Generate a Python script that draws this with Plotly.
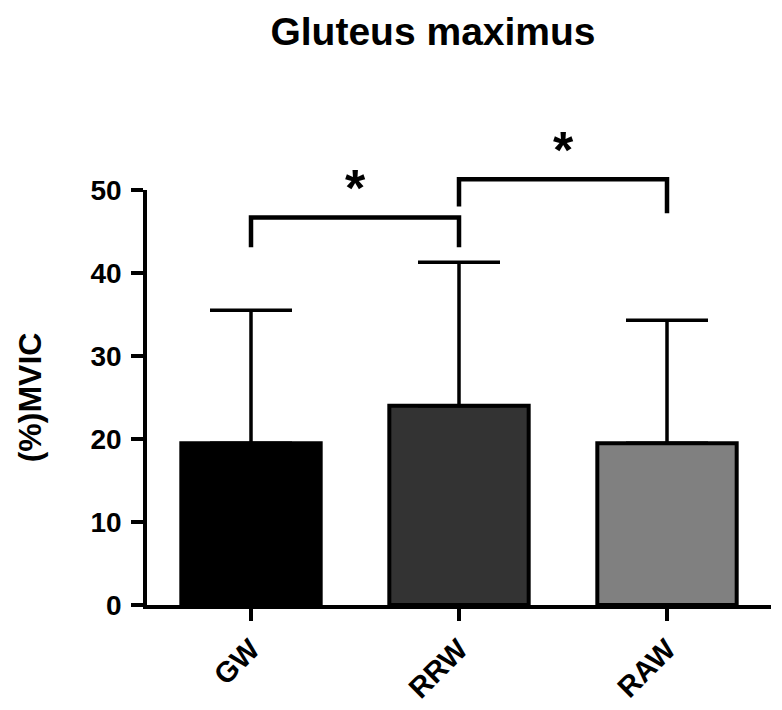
import plotly.graph_objects as go

# ---- data ----
categories = ["GW", "RRW", "RAW"]
means = [19.5, 24.0, 19.5]
sd_upper = [16.0, 17.3, 14.8]
bar_colors = ["#000000", "#333333", "#808080"]

# significance brackets: (left index, right index)
bracket_left = [0, 1]
bracket_right = [1, 2]
bracket_top = [46.7, 51.3]
bracket_left_end = [43.1, 48.0]
bracket_right_end = [43.1, 47.2]
star_labels = ["*", "*"]
star_y = [49.6, 54.2]

y_ticks = [0, 10, 20, 30, 40, 50]
title_text = "Gluteus maximus"
y_title = "(%)MVIC"

# ---- layout geometry ----
W, H = 782, 710
m_l, m_r, m_t, m_b = 147, 11, 100, 105
plot_h = H - m_t - m_b
axis_h = 415  # pixel height of 0..50 range
main_top = axis_h / plot_h
y2_max = 50 * plot_h / axis_h

FONT = "Liberation Sans, Arial, sans-serif"

fig = go.Figure()

fig.add_trace(go.Bar(
    x=categories, y=means,
    marker=dict(color=bar_colors, line=dict(color="black", width=4)),
    width=0.67,
    error_y=dict(type="data", symmetric=False, array=sd_upper,
                 arrayminus=[0] * len(sd_upper),
                 color="black", thickness=3.5, width=41),
    xaxis="x", yaxis="y", showlegend=False,
))

# brackets
bx, by = [], []
for l, r, t, le, re in zip(bracket_left, bracket_right, bracket_top,
                           bracket_left_end, bracket_right_end):
    bx += [l, l, r, r, None]
    by += [le, t, t, re, None]
fig.add_trace(go.Scatter(
    x=bx, y=by, mode="lines",
    line=dict(color="black", width=4.5),
    xaxis="x2", yaxis="y2", showlegend=False, hoverinfo="skip",
))

star_x = [(l + r) / 2 for l, r in zip(bracket_left, bracket_right)]
fig.add_trace(go.Scatter(
    x=star_x, y=star_y, mode="text", text=star_labels,
    textposition="middle center",
    textfont=dict(family=FONT, size=52, weight="bold", color="black"),
    xaxis="x2", yaxis="y2", showlegend=False, hoverinfo="skip",
    cliponaxis=False,
))

fig.update_layout(
    width=W, height=H,
    margin=dict(l=m_l, r=m_r, t=m_t, b=m_b, autoexpand=False),
    paper_bgcolor="white", plot_bgcolor="rgba(0,0,0,0)",
    font=dict(family=FONT, color="black"),
    title=dict(text=title_text, x=433 / W, xanchor="center",
               y=1 - 31 / H, yanchor="middle",
               font=dict(family=FONT, size=39, weight="bold", color="black")),
    xaxis=dict(
        domain=[0, 1], range=[-0.5, 2.5], anchor="y", automargin=False,
        showline=True, linecolor="black", linewidth=3.5,
        ticks="outside", ticklen=12, tickwidth=3.5, tickcolor="black",
        tickangle=-45, showgrid=False, zeroline=False,
        tickfont=dict(family=FONT, size=29, weight="bold", color="black"),
    ),
    yaxis=dict(
        domain=[0, main_top], range=[0, 50], anchor="x", automargin=False,
        tickvals=y_ticks,
        showline=True, linecolor="black", linewidth=3.5,
        ticks="outside", ticklen=12, tickwidth=3.5, tickcolor="black",
        showgrid=False, zeroline=False, ticklabelstandoff=4,
        tickfont=dict(family=FONT, size=28, weight="bold", color="black"),
        title=dict(text=y_title, standoff=40,
                   font=dict(family=FONT, size=32, weight="bold", color="black")),
    ),
    xaxis2=dict(domain=[0, 1], range=[-0.5, 2.5], anchor="y2", visible=False),
    yaxis2=dict(domain=[0, 1], range=[0, y2_max], anchor="x2", visible=False),
)

fig.write_html("out.html")
